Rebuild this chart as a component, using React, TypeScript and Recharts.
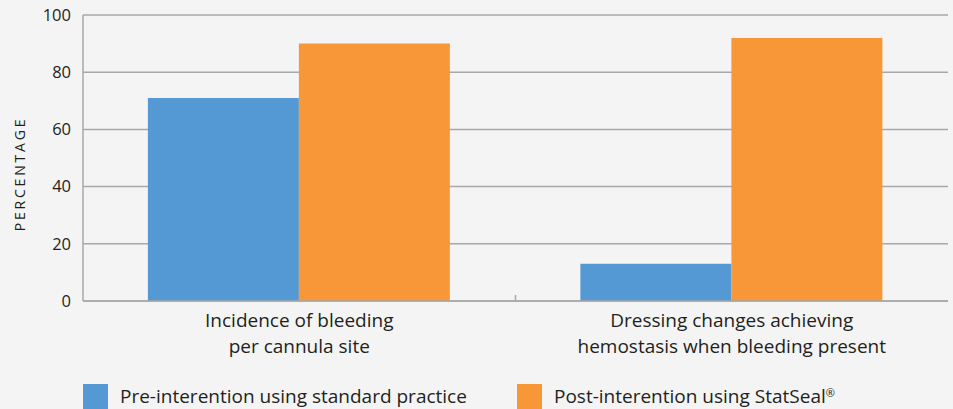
import React from "react";
import {
  BarChart,
  Bar,
  XAxis,
  YAxis,
  CartesianGrid,
  Legend,
} from "recharts";

const categories = [
  "Incidence of bleeding|per cannula site",
  "Dressing changes achieving|hemostasis when bleeding present",
];
const preValues = [71, 13];
const postValues = [90, 92];
const yTicks = [0, 20, 40, 60, 80, 100];
const seriesNames = [
  "Pre-interention using standard practice",
  "Post-interention using StatSeal®",
];

const data = categories.map((name, i) => ({
  name,
  pre: preValues[i],
  post: postValues[i],
}));

const BLUE = "#5499d3";
const ORANGE = "#f79737";
const GRID = "#a8a8a8";
const TEXT = "#231f20";
const FONT = "'Open Sans', sans-serif";

function CategoryTick(props: any) {
  const { x, y, payload, index } = props;
  const lines = String(payload.value).split("|");
  const half = payload.offset || 0;
  return (
    <g>
      {index === 0 && half > 0 && (
        <line
          x1={x + half}
          x2={x + half}
          y1={y - 6}
          y2={y}
          stroke={GRID}
          strokeWidth={1.5}
        />
      )}
      <text
        x={x}
        y={y + 26}
        textAnchor="middle"
        fill={TEXT}
        fontSize={19}
        fontFamily={FONT}
      >
        {lines.map((l, i) => (
          <tspan key={i} x={x} dy={i === 0 ? 0 : 26}>
            {l}
          </tspan>
        ))}
      </text>
    </g>
  );
}

// small superscript for the registered mark, like the original
function renderName(name: string) {
  const parts = name.split("®");
  if (parts.length < 2) return name;
  return (
    <>
      {parts[0]}
      <sup style={{ fontSize: 11, verticalAlign: 6 }}>®</sup>
      {parts[1]}
    </>
  );
}

function LegendContent(props: any) {
  const items = [...(props.payload || [])].sort(
    (a: any, b: any) => seriesNames.indexOf(a.value) - seriesNames.indexOf(b.value)
  );
  return (
    <div style={{ display: "flex", paddingLeft: 83 }}>
      {items.map((entry: any, i: number) => (
        <div
          key={i}
          style={{ display: "flex", alignItems: "center", width: 434 }}
        >
          <div
            style={{
              width: 25,
              height: 25,
              background: entry.color,
              marginRight: 12,
            }}
          />
          <span style={{ fontFamily: FONT, fontSize: 19, color: TEXT }}>
            {renderName(entry.value)}
          </span>
        </div>
      ))}
    </div>
  );
}

export default function App() {
  return (
    <div
      style={{
        position: "absolute",
        left: 0,
        top: 0,
        width: 953,
        height: 409,
        background: "#f4f4f4",
        overflow: "hidden",
      }}
    >
      <BarChart
        width={953}
        height={409}
        data={data}
        margin={{ top: 15, right: 5, bottom: 48, left: 0 }}
        barCategoryGap="15%"
        barGap={0}
      >
        <CartesianGrid vertical={false} stroke={GRID} strokeWidth={1.5} />
        <XAxis
          dataKey="name"
          height={60}
          axisLine={{ stroke: GRID, strokeWidth: 1.5 }}
          tickLine={false}
          tickSize={0}
          tickMargin={0}
          tick={<CategoryTick />}
          interval={0}
        />
        <YAxis
          width={83}
          domain={[0, 100]}
          ticks={yTicks}
          axisLine={{ stroke: GRID, strokeWidth: 1.5 }}
          tickLine={false}
          tickSize={0}
          tickMargin={12}
          tick={{ fill: TEXT, fontSize: 16.5, fontFamily: FONT }}
          label={() => (
            <text
              x={25}
              y={174}
              transform="rotate(-90 25 174)"
              textAnchor="middle"
              fill={TEXT}
              fontSize={14}
              letterSpacing={2.8}
              fontFamily={FONT}
            >
              PERCENTAGE
            </text>
          )}
        />
        <Legend
          layout="horizontal"
          verticalAlign="middle"
          align="center"
          content={<LegendContent />}
          wrapperStyle={{ top: 383, left: 0, width: 953 }}
        />
        <Bar
          dataKey="pre"
          name={seriesNames[0]}
          fill={BLUE}
          isAnimationActive={false}
        />
        <Bar
          dataKey="post"
          name={seriesNames[1]}
          fill={ORANGE}
          isAnimationActive={false}
        />
      </BarChart>
    </div>
  );
}
